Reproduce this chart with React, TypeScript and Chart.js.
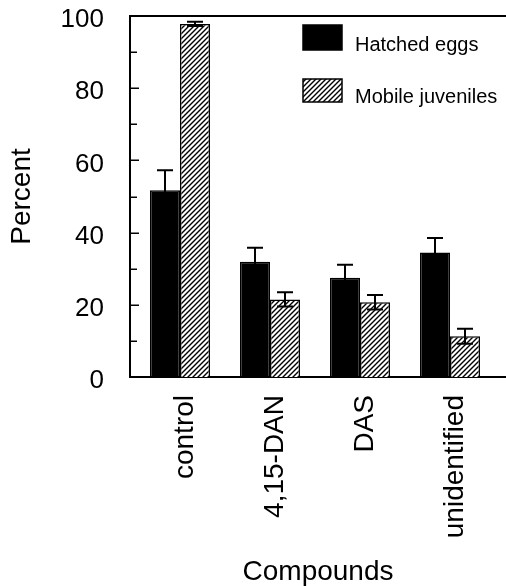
import React, { useEffect, useRef } from "react";
import { Chart, registerables } from "chart.js";

Chart.register(...registerables);

const categories = ["control", "4,15-DAN", "DAS", "unidentified"];
const seriesNames = ["Hatched eggs", "Mobile juveniles"];
const hatchedEggs = [51.7, 31.9, 27.5, 34.5];
const hatchedEggsErr = [5.6, 3.9, 3.6, 4.0];
const mobileJuveniles = [97.8, 21.5, 20.7, 11.3];
const mobileJuvenilesErr = [0.6, 2.0, 2.0, 2.1];
const yTicks = [0, 20, 40, 60, 80, 100];
const yMinorStep = 10;

const FONT = "'Liberation Sans', Arial, Helvetica, sans-serif";

function makeHatch(): CanvasPattern | string {
  const s = 5;
  const c = document.createElement("canvas");
  c.width = s;
  c.height = s;
  const ctx = c.getContext("2d");
  if (!ctx) return "#888";
  ctx.fillStyle = "#fff";
  ctx.fillRect(0, 0, s, s);
  ctx.strokeStyle = "#000";
  ctx.lineWidth = 1.4;
  ctx.beginPath();
  ctx.moveTo(-1, s + 1);
  ctx.lineTo(s + 1, -1);
  ctx.moveTo(-1, 1);
  ctx.lineTo(1, -1);
  ctx.moveTo(s - 1, s + 1);
  ctx.lineTo(s + 1, s - 1);
  ctx.stroke();
  const p = ctx.createPattern(c, "repeat");
  return p || "#888";
}

export default function App() {
  const ref = useRef<HTMLCanvasElement | null>(null);

  useEffect(() => {
    if (!ref.current) return;
    const hatch = makeHatch();
    const errs = [hatchedEggsErr, mobileJuvenilesErr];

    const framePlugin = {
      id: "frame",
      afterDraw(chart: any) {
        const { ctx, chartArea, scales } = chart;
        const y = scales.y;
        ctx.save();
        ctx.strokeStyle = "#000";
        ctx.lineWidth = 2;
        ctx.beginPath();
        ctx.moveTo(chartArea.left - 1, chartArea.top);
        ctx.lineTo(chartArea.right, chartArea.top);
        ctx.stroke();
        ctx.lineWidth = 1.5;
        for (let v = y.min; v <= y.max; v += yMinorStep) {
          const py = Math.round(y.getPixelForValue(v)) + 0.25;
          const major = yTicks.includes(v);
          ctx.beginPath();
          ctx.moveTo(chartArea.left, py);
          ctx.lineTo(chartArea.left + (major ? 9 : 7), py);
          ctx.stroke();
        }
        ctx.restore();
      },
    };

    const errorPlugin = {
      id: "errorbars",
      afterDatasetsDraw(chart: any) {
        const { ctx, scales } = chart;
        const y = scales.y;
        ctx.save();
        ctx.strokeStyle = "#000";
        ctx.lineWidth = 2;
        chart.data.datasets.forEach((ds: any, di: number) => {
          const meta = chart.getDatasetMeta(di);
          meta.data.forEach((el: any, i: number) => {
            const v = ds.data[i].y;
            const e = errs[di][i];
            const top = y.getPixelForValue(v + e);
            const bot = y.getPixelForValue(v - e);
            const x = el.x;
            ctx.beginPath();
            ctx.moveTo(x, top);
            ctx.lineTo(x, bot);
            ctx.moveTo(x - 8, top);
            ctx.lineTo(x + 8, top);
            ctx.moveTo(x - 8, bot);
            ctx.lineTo(x + 8, bot);
            ctx.stroke();
          });
        });
        ctx.restore();
      },
    };

    const legendPlugin = {
      id: "customLegend",
      afterDraw(chart: any) {
        const { ctx } = chart;
        ctx.save();
        const boxX = 303;
        const boxW = 39;
        const rows = [25, 79];
        chart.data.datasets.forEach((ds: any, i: number) => {
          const by = rows[i];
          const h = i === 0 ? 25 : 23;
          ctx.fillStyle = ds.backgroundColor;
          ctx.fillRect(boxX, by, boxW, h);
          ctx.strokeStyle = "#000";
          ctx.lineWidth = 1.5;
          ctx.strokeRect(boxX, by, boxW, h);
          ctx.fillStyle = "#000";
          ctx.font = `20px ${FONT}`;
          ctx.textBaseline = "alphabetic";
          ctx.textAlign = "left";
          ctx.fillText(ds.label, 355, i === 0 ? 51 : 103);
        });
        ctx.restore();
      },
    };

    const chart = new Chart(ref.current, {
      type: "bar",
      data: {
        datasets: [
          {
            label: seriesNames[0],
            data: categories.map((_, i) => ({ x: i, y: hatchedEggs[i] })),
            backgroundColor: "#000",
            borderColor: "#000",
            borderWidth: 1.5,
            categoryPercentage: 2 / 3,
            barPercentage: 1,
          },
          {
            label: seriesNames[1],
            data: categories.map((_, i) => ({ x: i, y: mobileJuveniles[i] })),
            backgroundColor: hatch as any,
            borderColor: "#000",
            borderWidth: 1.5,
            categoryPercentage: 2 / 3,
            barPercentage: 1,
          },
        ],
      },
      options: {
        animation: false,
        responsive: false,
        devicePixelRatio: 1,
        layout: { padding: { top: 16, right: 0, bottom: 0, left: 0 } },
        plugins: {
          legend: { display: false },
          tooltip: { enabled: false },
        },
        scales: {
          x: {
            type: "linear",
            min: -50 / 90,
            max: -50 / 90 + 376 / 90,
            offset: false,
            grid: { display: false },
            border: { display: true, color: "#000", width: 2 },
            afterBuildTicks: (scale: any) => {
              scale.ticks = categories.map((_, i) => ({ value: i }));
            },
            afterFit: (scale: any) => {
              scale.height = 209;
              scale.paddingLeft = 0;
              scale.paddingRight = 0;
            },
            ticks: {
              autoSkip: false,
              minRotation: 90,
              maxRotation: 90,
              padding: 10,
              labelOffset: 5,
              color: "#000",
              font: { family: FONT, size: 28 },
              callback: (v: any) => categories[Math.round(Number(v))] ?? "",
            },
            title: {
              display: true,
              text: "Compounds",
              color: "#000",
              font: { family: FONT, size: 28, lineHeight: 1.0 },
              padding: { top: 0, bottom: 0 },
            },
          },
          y: {
            min: 0,
            max: 100,
            grid: { display: false },
            border: { display: true, color: "#000", width: 2 },
            afterBuildTicks: (scale: any) => {
              scale.ticks = yTicks.map((v) => ({ value: v }));
            },
            afterFit: (scale: any) => {
              scale.width = 130;
              scale.paddingTop = 0;
              scale.paddingBottom = 0;
            },
            ticks: {
              padding: 18,
              labelOffset: 4,
              color: "#000",
              font: { family: FONT, size: 26 },
            },
            title: {
              display: true,
              text: "Percent",
              color: "#000",
              font: { family: FONT, size: 28 },
              padding: { top: 5, bottom: 0 },
            },
          },
        },
      } as any,
      plugins: [errorPlugin, framePlugin, legendPlugin],
    });

    return () => chart.destroy();
  }, []);

  return (
    <div style={{ position: "absolute", left: 0, top: 0, width: 506, height: 586, background: "#fff" }}>
      <canvas ref={ref} width={506} height={586} style={{ display: "block" }} />
    </div>
  );
}
